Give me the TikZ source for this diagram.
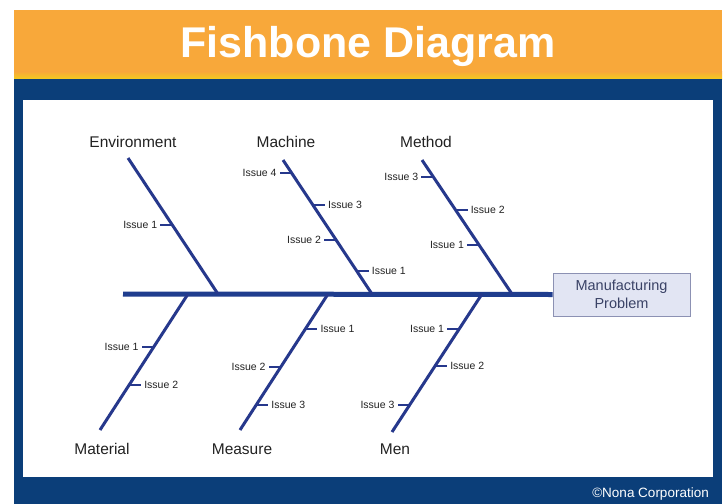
\documentclass[tikz,border=0pt]{standalone}
\usepackage{fontspec}
\setmainfont{Liberation Sans}
\definecolor{orangeb}{HTML}{F8A83A}
\definecolor{yellowb}{HTML}{F3CB1E}
\definecolor{navy}{HTML}{0B3E79}
\definecolor{bone}{HTML}{26388C}
\definecolor{spinec}{HTML}{1F3D8E}
\definecolor{boxfill}{HTML}{E2E5F3}
\definecolor{boxline}{HTML}{8C91B3}
\definecolor{txt}{HTML}{222222}
\definecolor{boxtxt}{HTML}{3A4266}
\tikzset{
  bonel/.style={draw=bone,line width=3pt},
  tickl/.style={draw=bone,line width=1.3pt},
  cat/.style={font=\fontsize{15.5}{18}\selectfont,text=txt,inner sep=0pt},
  iss/.style={font=\fontsize{10.5}{12}\selectfont,text=txt,inner sep=3pt},
}
\newcommand\issueL[5]{%
  \coordinate (#1) at (intersection of #2--#3 and 0,#4--10,#4);
  \node[iss,anchor=east] (#1l) at ([xshift=-12pt]#1) {#5};
  \draw[tickl] (#1) -- (#1l.east);}
\newcommand\issueR[5]{%
  \coordinate (#1) at (intersection of #2--#3 and 0,#4--10,#4);
  \node[iss,anchor=west] (#1l) at ([xshift=12pt]#1) {#5};
  \draw[tickl] (#1) -- (#1l.west);}
\begin{document}
\begin{tikzpicture}[x=1pt,y=-1pt]
\useasboundingbox (0,0) rectangle (724,504);
\fill[white] (0,0) rectangle (724,504);
% banner
\fill[orangeb] (14,10) rectangle (722,72);
\shade[top color=orangeb,bottom color=yellowb] (14,71.5) rectangle (722,79);
\fill[navy] (14,79) rectangle (722,504);
\fill[white] (23,100) rectangle (713,477);
\node[font=\fontsize{43}{46}\selectfont\bfseries,text=white,anchor=base,inner sep=0pt] (title) at (368,57) {Fishbone Diagram};
\node[font=\fontsize{13.5}{15}\selectfont,text=white,anchor=base east,inner sep=0pt] (copy) at (709,497) {\textcopyright Nona Corporation};
% head box
\node[draw=boxline,fill=boxfill,line width=1pt,minimum width=137pt,minimum height=43pt,inner sep=0pt,align=center,text=boxtxt,font=\fontsize{14.5}{18}\selectfont] (prob) at (621.5,294.5) {Manufacturing\\Problem};
\coordinate (tail) at (123,294);
\draw[draw=spinec,line width=5pt] (tail) -- (prob.west);
% bone ends
\coordinate (envT) at (128,158); \coordinate (envB) at (218,294);
\coordinate (macT) at (283,160); \coordinate (macB) at (372,294);
\coordinate (metT) at (422,160); \coordinate (metB) at (512,294);
\coordinate (matT) at (188,294); \coordinate (matB) at (100,430);
\coordinate (meaT) at (328,294); \coordinate (meaB) at (240,430);
\coordinate (menT) at (482,294); \coordinate (menB) at (392,432);
\draw[bonel] (envT) -- (envB);
\draw[bonel] (macT) -- (macB);
\draw[bonel] (metT) -- (metB);
\draw[bonel] (matT) -- (matB);
\draw[bonel] (meaT) -- (meaB);
\draw[bonel] (menT) -- (menB);
% category labels
\node[cat] (lenv) at (133,142) {Environment};
\node[cat] (lmac) at (286,142) {Machine};
\node[cat] (lmet) at (426,142) {Method};
\node[cat] (lmat) at (102,449) {Material};
\node[cat] (lmea) at (242,449) {Measure};
\node[cat] (lmen) at (395,449) {Men};
% issues
\issueL{e1}{envT}{envB}{225}{Issue 1}
\issueL{m4}{macT}{macB}{173}{Issue 4}
\issueR{m3}{macT}{macB}{205}{Issue 3}
\issueL{m2}{macT}{macB}{240}{Issue 2}
\issueR{m1}{macT}{macB}{271}{Issue 1}
\issueL{t3}{metT}{metB}{177}{Issue 3}
\issueR{t2}{metT}{metB}{210}{Issue 2}
\issueL{t1}{metT}{metB}{245}{Issue 1}
\issueL{a1}{matT}{matB}{347}{Issue 1}
\issueR{a2}{matT}{matB}{385}{Issue 2}
\issueR{s1}{meaT}{meaB}{329}{Issue 1}
\issueL{s2}{meaT}{meaB}{367}{Issue 2}
\issueR{s3}{meaT}{meaB}{405}{Issue 3}
\issueL{n1}{menT}{menB}{329}{Issue 1}
\issueR{n2}{menT}{menB}{366}{Issue 2}
\issueL{n3}{menT}{menB}{405}{Issue 3}
\end{tikzpicture}
\end{document}
